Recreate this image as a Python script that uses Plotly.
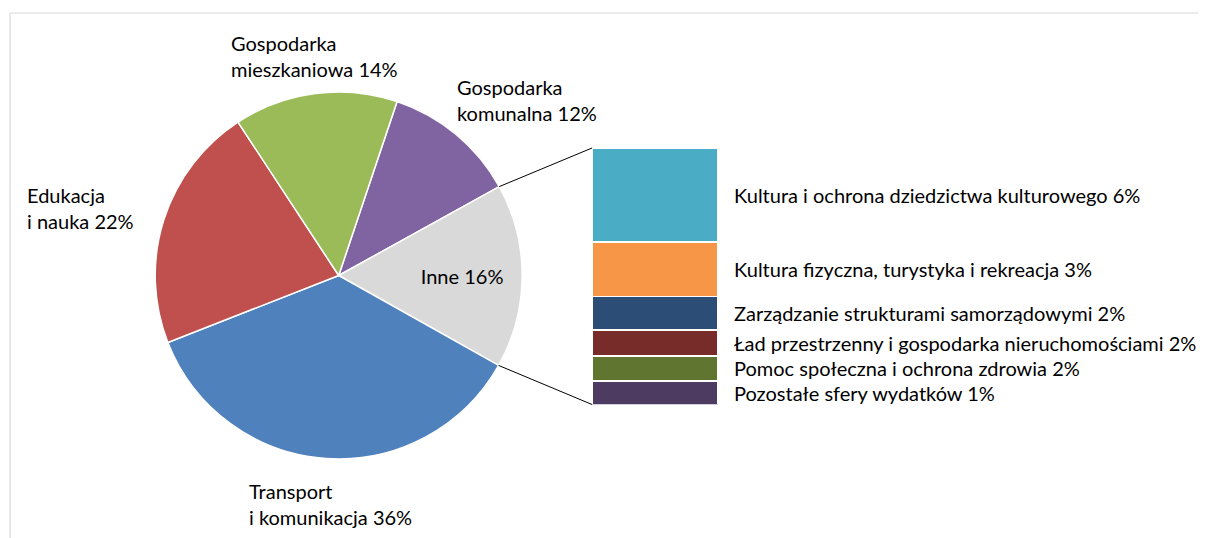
import math
import plotly.graph_objects as go

# pie: share of expenditure (%)
pie_labels = ["Gospodarka komunalna", "Inne", "Transport i komunikacja",
              "Edukacja i nauka", "Gospodarka mieszkaniowa"]
pie_text = ["Gospodarka<br>komunalna", "Inne", "Transport<br>i komunikacja",
            "Edukacja<br>i nauka", "Gospodarka<br>mieszkaniowa"]
pie_values = [11.8, 16.2, 35.9, 21.7, 14.4]
pie_colors = ["#8064A2", "#D9D9D9", "#4F81BD", "#C0504D", "#9BBB59"]

# breakdown of "Inne" (top to bottom)
bar_labels = ["Kultura i ochrona dziedzictwa kulturowego",
              "Kultura fizyczna, turystyka i rekreacja",
              "Zarządzanie strukturami samorządowymi",
              "Ład przestrzenny i gospodarka nieruchomościami",
              "Pomoc społeczna i ochrona zdrowia",
              "Pozostałe sfery wydatków"]
bar_values = [5.86, 3.40, 2.09, 1.62, 1.56, 1.47]
bar_colors = ["#4BACC6", "#F79646", "#2C4D75", "#772C2A", "#5F7530", "#4D3B62"]

OFF = 8  # page margin around the plot div
W, H = 1206 - OFF, 538 - OFF
FONT = "Lato, Arial, sans-serif"
FS = 20
rotation = 18.55


def px_x(x):
    return (x - OFF) / W


def px_y(y):
    return 1 - (y - OFF) / H


# pie geometry in page pixels
cx, cy, r = 338.7, 275.5, 183.5
pie_dom_x = [px_x(cx - r), px_x(cx + r)]
pie_dom_y = [px_y(cy + r), px_y(cy - r)]

# bar geometry in page pixels
bar_left, bar_right, bar_top, bar_bottom = 592, 718, 148, 404.5
bar_dom_x = [px_x(bar_left), px_x(bar_right)]
bar_dom_y = [px_y(bar_bottom), px_y(bar_top)]

total = sum(pie_values)
fig = go.Figure()

fig.add_trace(go.Pie(
    labels=pie_labels,
    values=pie_values,
    sort=False,
    direction="clockwise",
    rotation=rotation,
    marker=dict(colors=pie_colors, line=dict(color="white", width=1.5)),
    texttemplate="%{label} %{percent:.0%}",
    textposition=["none", "inside", "none", "none", "none"],
    insidetextorientation="horizontal",
    textfont=dict(family=FONT, size=FS, color="#000000"),
    domain=dict(x=pie_dom_x, y=pie_dom_y),
    showlegend=False,
    hoverinfo="label+percent",
))

# stacked bar, bottom segment first
bar_total = sum(bar_values)
for lab, val, col in reversed(list(zip(bar_labels, bar_values, bar_colors))):
    fig.add_trace(go.Bar(
        x=[0], y=[val], name=lab, width=1,
        marker=dict(color=col, line=dict(color="white", width=1.5)),
        showlegend=False, hoverinfo="name+y",
    ))

annotations = []
# bar labels, at the middle of each segment
top = bar_total
for lab, val in zip(bar_labels, bar_values):
    annotations.append(dict(
        text=f"{lab} {round(val)}%", x=1.11, xref="x domain",
        y=top - val / 2, yref="y", xanchor="left", yanchor="middle",
        showarrow=False, align="left",
        font=dict(family=FONT, size=FS, color="#000000")))
    top -= val

# outside pie labels
label_pos = {  # left edge, vertical middle (page pixels)
    "Gospodarka komunalna": (455, 100),
    "Transport i komunikacja": (247, 503.5),
    "Edukacja i nauka": (25, 208.5),
    "Gospodarka mieszkaniowa": (229, 55.5),
}
for lab, txt, val in zip(pie_labels, pie_text, pie_values):
    if lab not in label_pos:
        continue
    lx, ly = label_pos[lab]
    annotations.append(dict(
        text=f"{txt} {round(val / total * 100)}%", x=px_x(lx), y=px_y(ly),
        xref="paper", yref="paper", xanchor="left", yanchor="middle",
        showarrow=False, align="left",
        font=dict(family=FONT, size=FS, color="#000000")))

# connector lines from "Inne" slice edges to the bar corners
start = rotation + 360 * sum(pie_values[:1]) / total
end = rotation + 360 * sum(pie_values[:2]) / total
shapes = []
for ang, by in ((start, bar_top), (end, bar_bottom)):
    a = math.radians(ang)
    ex = cx + r * math.sin(a)
    ey = cy - r * math.cos(a)
    shapes.append(dict(type="line", xref="paper", yref="paper",
                       x0=px_x(ex), y0=px_y(ey), x1=px_x(bar_left), y1=px_y(by),
                       line=dict(color="#000000", width=1)))

# chart frame
shapes.append(dict(type="rect", xref="paper", yref="paper",
                   x0=px_x(10), y0=-0.05, x1=1.05, y1=px_y(13),
                   line=dict(color="#D9D9D9", width=1.2), layer="below"))

fig.update_layout(
    width=W, height=H,
    margin=dict(l=0, r=0, t=0, b=0),
    paper_bgcolor="white", plot_bgcolor="white",
    barmode="stack",
    xaxis=dict(domain=bar_dom_x, range=[-0.5, 0.5], visible=False, fixedrange=True),
    yaxis=dict(domain=bar_dom_y, range=[0, bar_total], visible=False, fixedrange=True),
    annotations=annotations,
    shapes=shapes,
    font=dict(family=FONT, size=FS, color="#000000"),
)

fig.write_html("out.html")
